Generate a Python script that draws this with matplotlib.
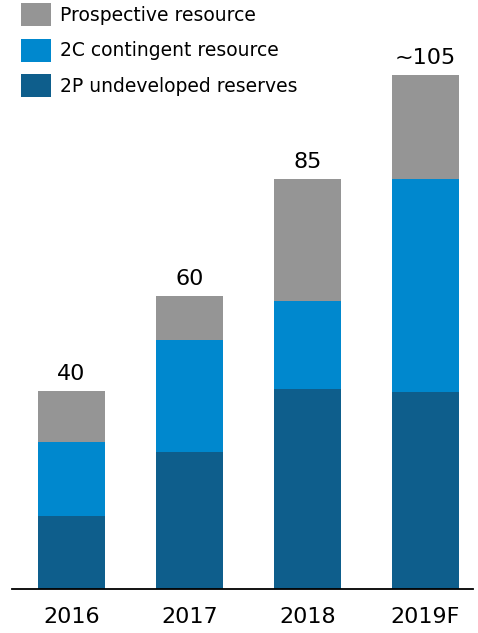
import matplotlib.pyplot as plt
import numpy as np

# Resource base by year (approximate units)
years = ['2016', '2017', '2018', '2019F']
undeveloped_2p = [15, 28, 41, 40.4]
contingent_2c = [15.2, 23, 18, 43.6]
prospective = [10.4, 9, 25, 21.3]
total_labels = ['40', '60', '85', '~105']

c_2p = '#0E5E8C'
c_2c = '#0088CE'
c_pr = '#959595'

fig = plt.figure(figsize=(4.78, 6.33), dpi=100)
W, H = 478, 633
# axes spans from x=12 to 473 px, baseline at y=589 px
ax = fig.add_axes([12 / W, (H - 589) / H, (473 - 12) / W, 589 / H])

x = np.arange(len(years))
w = 0.568
b1 = ax.bar(x, undeveloped_2p, w, color=c_2p, label='2P undeveloped reserves')
bottom2 = np.array(undeveloped_2p)
b2 = ax.bar(x, contingent_2c, w, bottom=bottom2, color=c_2c, label='2C contingent resource')
bottom3 = bottom2 + np.array(contingent_2c)
b3 = ax.bar(x, prospective, w, bottom=bottom3, color=c_pr, label='Prospective resource')

totals = bottom3 + np.array(prospective)
for xi, t, lab in zip(x, totals, total_labels):
    ax.annotate(lab, (xi, t), xytext=(0, 5), textcoords='offset points',
                ha='center', va='bottom', fontsize=16)

ax.set_xlim(-0.504, 3.403)
ax.set_ylim(0, 589 / 4.88)
ax.set_xticks(x)
ax.set_xticklabels(years, fontsize=16)
ax.tick_params(axis='x', length=0, pad=13)
ax.set_yticks([])
for s in ['top', 'left', 'right']:
    ax.spines[s].set_visible(False)
ax.spines['bottom'].set_linewidth(1.3)

leg = ax.legend(handles=[b3, b2, b1], loc='upper left',
                bbox_to_anchor=(21 / W, 1 - 3 / H), bbox_transform=fig.transFigure,
                frameon=False, fontsize=13.5, handlelength=1.6, handleheight=1.5,
                labelspacing=0.68, handletextpad=0.5, borderpad=0, borderaxespad=0)

fig.savefig('out.png', dpi=100)
